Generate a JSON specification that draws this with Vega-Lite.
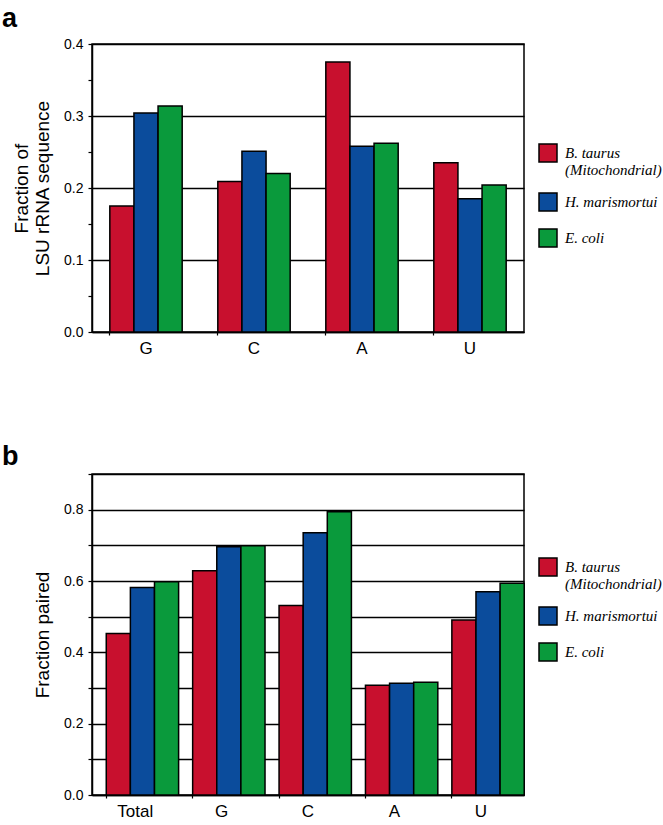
{
  "$schema": "https://vega.github.io/schema/vega-lite/v6.json",
  "padding": {"left": 1, "top": 4, "right": 0, "bottom": 0},
  "spacing": 85,
  "config": {
    "view": {"stroke": "black", "strokeWidth": 1.5},
    "font": "Liberation Sans",
    "title": {"font": "Liberation Sans", "fontSize": 27, "fontWeight": "bold", "anchor": "start", "frame": "group", "color": "black"},
    "axis": {"domainColor": "black", "domainWidth": 1.5, "tickColor": "black", "tickWidth": 1.2, "labelColor": "black", "titleColor": "black", "labelFont": "Liberation Sans", "titleFont": "Liberation Sans", "titleFontWeight": "normal"},
    "legend": {"labelFont": "Liberation Serif", "labelFontStyle": "italic", "labelFontSize": 15, "labelColor": "black", "labelLimit": 300}
  },
  "vconcat": [
    {
      "width": 432,
      "height": 288,
      "title": {"text": "a", "dx": -90, "offset": 4},
      "data": {"values": [
        {"base": "G", "organism": "B. taurus", "fraction": 0.175},
        {"base": "G", "organism": "H. marismortui", "fraction": 0.304},
        {"base": "G", "organism": "E. coli", "fraction": 0.314},
        {"base": "C", "organism": "B. taurus", "fraction": 0.209},
        {"base": "C", "organism": "H. marismortui", "fraction": 0.251},
        {"base": "C", "organism": "E. coli", "fraction": 0.22},
        {"base": "A", "organism": "B. taurus", "fraction": 0.375},
        {"base": "A", "organism": "H. marismortui", "fraction": 0.258},
        {"base": "A", "organism": "E. coli", "fraction": 0.262},
        {"base": "U", "organism": "B. taurus", "fraction": 0.235},
        {"base": "U", "organism": "H. marismortui", "fraction": 0.185},
        {"base": "U", "organism": "E. coli", "fraction": 0.204}
      ]},
      "mark": {"type": "bar", "stroke": "black", "strokeWidth": 1.5},
      "encoding": {
        "x": {"field": "base", "type": "nominal", "sort": ["G", "C", "A", "U"],
          "scale": {"paddingInner": 0.33, "paddingOuter": 0.165},
          "axis": {"title": null, "labelAngle": 0, "labelFontSize": 17, "tickSize": 3, "bandPosition": 0, "labelPadding": 5}},
        "xOffset": {"field": "organism", "type": "nominal", "sort": ["B. taurus", "H. marismortui", "E. coli"], "scale": {"paddingInner": 0, "paddingOuter": 0}},
        "y": {"field": "fraction", "type": "quantitative",
          "scale": {"domain": [0, 0.4], "nice": false, "zero": true},
          "axis": {
            "values": [0, 0.05, 0.1, 0.15, 0.2, 0.25, 0.3, 0.35, 0.4],
            "labelExpr": "round(datum.value*100) % 10 == 0 ? format(datum.value, '.1f') : ''",
            "grid": true, "gridColor": "black", "gridWidth": 1.5,
            "gridOpacity": {"condition": {"test": "round(datum.value*100) % 10 == 0", "value": 1}, "value": 0},
            "tickSize": 4, "labelFontSize": 14, "labelPadding": 5,
            "title": ["Fraction of", "LSU rRNA sequence"], "titleFontSize": 19, "titleLineHeight": 21, "titlePadding": 11
          }},
        "color": {"field": "organism", "type": "nominal",
          "scale": {"domain": ["B. taurus", "H. marismortui", "E. coli"], "range": ["#c8102e", "#0b4c9c", "#0a9a3c"]},
          "legend": {"title": null, "orient": "none", "legendX": 446, "legendY": 99, "padding": 0,
            "symbolType": "square", "symbolSize": 324, "symbolStrokeColor": "black", "symbolStrokeWidth": 1.5,
            "symbolOpacity": 1, "labelOffset": 7, "rowPadding": 12,
            "labelExpr": "datum.label == 'B. taurus' ? ['B. taurus', '(Mitochondrial)'] : datum.label"}}
      }
    },
    {
      "width": 432,
      "height": 321,
      "title": {"text": "b", "dx": -90, "offset": 2},
      "data": {"values": [
        {"base": "Total", "organism": "B. taurus", "fraction": 0.453},
        {"base": "Total", "organism": "H. marismortui", "fraction": 0.582},
        {"base": "Total", "organism": "E. coli", "fraction": 0.598},
        {"base": "G", "organism": "B. taurus", "fraction": 0.629},
        {"base": "G", "organism": "H. marismortui", "fraction": 0.696},
        {"base": "G", "organism": "E. coli", "fraction": 0.699},
        {"base": "C", "organism": "B. taurus", "fraction": 0.531},
        {"base": "C", "organism": "H. marismortui", "fraction": 0.735},
        {"base": "C", "organism": "E. coli", "fraction": 0.794},
        {"base": "A", "organism": "B. taurus", "fraction": 0.308},
        {"base": "A", "organism": "H. marismortui", "fraction": 0.313},
        {"base": "A", "organism": "E. coli", "fraction": 0.316},
        {"base": "U", "organism": "B. taurus", "fraction": 0.491},
        {"base": "U", "organism": "H. marismortui", "fraction": 0.57},
        {"base": "U", "organism": "E. coli", "fraction": 0.594}
      ]},
      "mark": {"type": "bar", "stroke": "black", "strokeWidth": 1.5},
      "encoding": {
        "x": {"field": "base", "type": "nominal", "sort": ["Total", "G", "C", "A", "U"],
          "scale": {"paddingInner": 0.33, "paddingOuter": 0.165},
          "axis": {"title": null, "labelAngle": 0, "labelFontSize": 17, "tickSize": 3, "bandPosition": 0, "labelPadding": 5}},
        "xOffset": {"field": "organism", "type": "nominal", "sort": ["B. taurus", "H. marismortui", "E. coli"], "scale": {"paddingInner": 0, "paddingOuter": 0}},
        "y": {"field": "fraction", "type": "quantitative",
          "scale": {"domain": [0, 0.9], "nice": false, "zero": true},
          "axis": {
            "values": [0, 0.1, 0.2, 0.3, 0.4, 0.5, 0.6, 0.7, 0.8, 0.9],
            "labelExpr": "round(datum.value*10) % 2 == 0 ? format(datum.value, '.1f') : ''",
            "grid": true, "gridColor": "black", "gridWidth": 1.5,
            "tickSize": 4, "labelFontSize": 14, "labelPadding": 5,
            "title": "Fraction paired", "titleFontSize": 19, "titlePadding": 11
          }},
        "color": {"field": "organism", "type": "nominal",
          "scale": {"domain": ["B. taurus", "H. marismortui", "E. coli"], "range": ["#c8102e", "#0b4c9c", "#0a9a3c"]},
          "legend": {"title": null, "orient": "none", "legendX": 446, "legendY": 83, "padding": 0,
            "symbolType": "square", "symbolSize": 324, "symbolStrokeColor": "black", "symbolStrokeWidth": 1.5,
            "symbolOpacity": 1, "labelOffset": 7, "rowPadding": 12,
            "labelExpr": "datum.label == 'B. taurus' ? ['B. taurus', '(Mitochondrial)'] : datum.label"}}
      }
    }
  ],
  "resolve": {"scale": {"color": "independent"}, "legend": {"color": "independent"}}
}
